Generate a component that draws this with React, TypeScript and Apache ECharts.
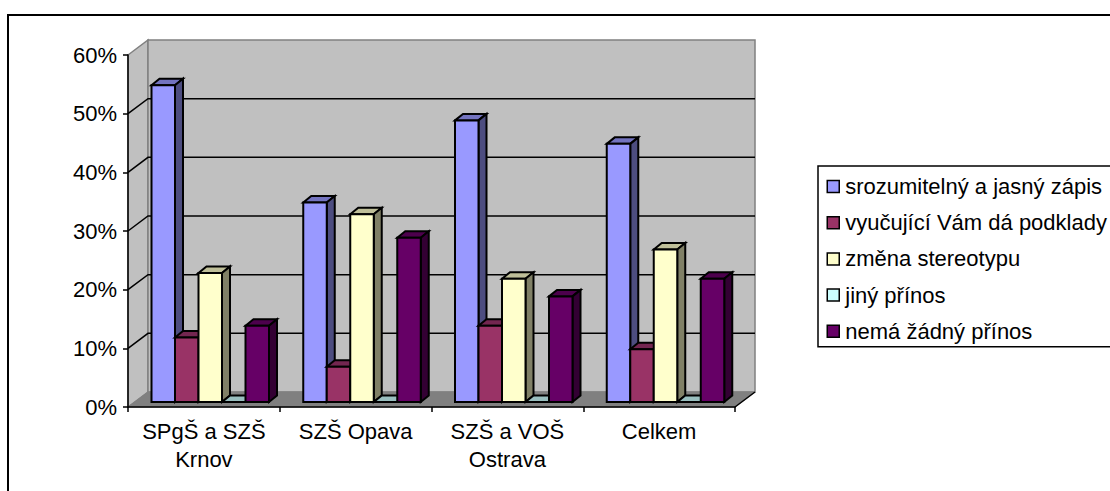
import React, { useEffect, useRef } from "react";
import * as echarts from "echarts";

const categories = ["SPgŠ a SZŠ\nKrnov", "SZŠ Opava", "SZŠ a VOŠ\nOstrava", "Celkem"];
const zapis = [54, 34, 48, 44];
const podklady = [11, 6, 13, 9];
const stereotyp = [22, 32, 21, 26];
const jiny = [0, 0, 0, 0];
const zadny = [13, 28, 18, 21];
const wallTicks = [10, 20, 30, 40, 50];

const seriesDefs = [
  { name: "srozumitelný a jasný zápis", values: zapis, front: "#9999ff", side: "#4d4d80", top: "#7373bf" },
  { name: "vyučující Vám dá podklady", values: podklady, front: "#993366", side: "#4d1a33", top: "#732650" },
  { name: "změna stereotypu", values: stereotyp, front: "#ffffcc", side: "#808066", top: "#bfbf99" },
  { name: "jiný přínos", values: jiny, front: "#ccffff", side: "#668080", top: "#99bfbf" },
  { name: "nemá žádný přínos", values: zadny, front: "#660066", side: "#330033", top: "#4d004d" },
];

const FONT = "'Liberation Sans', Arial, sans-serif";
const WALL_DX = 20;
const WALL_DY = 15;
const BAR_START = 23.5;
const BAR_W = 23.5;
const BAR_DX = 8;
const BAR_DY = 6.5;
const BAR_LIFT = 5;

function wallsRender(_p: any, api: any) {
  const band = api.size([1, 0])[0];
  const [c0, y0] = api.coord([0, 0]);
  const xL = c0 - band / 2;
  const xR = xL + band * categories.length;
  const yT = api.coord([0, 60])[1];
  const gray = "#808080";
  const children: any[] = [
    { type: "polygon", shape: { points: [[xL, yT], [xL + WALL_DX, yT - WALL_DY], [xL + WALL_DX, y0 - WALL_DY], [xL, y0]] }, style: { fill: "#c0c0c0", stroke: gray, lineWidth: 1.5 } },
    { type: "polygon", shape: { points: [[xL + WALL_DX, yT - WALL_DY], [xR + WALL_DX, yT - WALL_DY], [xR + WALL_DX, y0 - WALL_DY], [xL + WALL_DX, y0 - WALL_DY]] }, style: { fill: "#c0c0c0", stroke: gray, lineWidth: 1.5 } },
    { type: "polygon", shape: { points: [[xL, y0], [xL + WALL_DX, y0 - WALL_DY], [xR + WALL_DX, y0 - WALL_DY], [xR, y0]] }, style: { fill: gray, stroke: gray, lineWidth: 1 } },
  ];
  wallTicks.forEach((t) => {
    const y = api.coord([0, t])[1];
    children.push({ type: "polyline", shape: { points: [[xL, y], [xL + WALL_DX, y - WALL_DY], [xR + WALL_DX, y - WALL_DY]] }, style: { fill: "none", stroke: "#000", lineWidth: 1.5 } });
  });
  children.push({ type: "line", shape: { x1: xR, y1: y0, x2: xR + WALL_DX, y2: y0 - WALL_DY }, style: { stroke: "#000", lineWidth: 1.5 } });
  return { type: "group", children };
}

function barRender(idx: number) {
  const def = seriesDefs[idx];
  return (_p: any, api: any) => {
    const band = api.size([1, 0])[0];
    const [cx, yV] = api.coord([api.value(0), api.value(1)]);
    const y0 = api.coord([0, 0])[1] - BAR_LIFT;
    const yTop = yV - BAR_LIFT;
    const x = cx - band / 2 + BAR_START + idx * BAR_W;
    const r = x + BAR_W;
    const ln = { stroke: "#000", lineWidth: 2, lineJoin: "miter" };
    return {
      type: "group",
      children: [
        { type: "polygon", shape: { points: [[x, yTop], [x + BAR_DX, yTop - BAR_DY], [r + BAR_DX, yTop - BAR_DY], [r, yTop]] }, style: { fill: def.top, ...ln } },
        { type: "polygon", shape: { points: [[r, yTop], [r + BAR_DX, yTop - BAR_DY], [r + BAR_DX, y0 - BAR_DY], [r, y0]] }, style: { fill: def.side, ...ln } },
        { type: "rect", shape: { x, y: yTop, width: BAR_W, height: y0 - yTop }, style: { fill: def.front, ...ln } },
      ],
    };
  };
}

export default function App() {
  const ref = useRef<HTMLDivElement>(null);
  useEffect(() => {
    const chart = echarts.init(ref.current!, null, { renderer: "svg" });
    chart.setOption({
      animation: false,
      backgroundColor: "#ffffff",
      textStyle: { fontFamily: FONT },
      grid: { left: 128, top: 55, width: 607, height: 352, containLabel: false },
      xAxis: {
        type: "category",
        data: categories,
        axisLine: { show: true, lineStyle: { color: "#000", width: 1.5 } },
        axisTick: { show: true, length: 5, lineStyle: { color: "#000", width: 1.5 } },
        axisLabel: { interval: 0, color: "#000", fontSize: 22, fontFamily: FONT, margin: 10, lineHeight: 28 },
        splitLine: { show: false },
        z: 5,
      },
      yAxis: {
        type: "value",
        min: 0,
        max: 60,
        interval: 10,
        axisLine: { show: true, lineStyle: { color: "#000", width: 1.5 } },
        axisTick: { show: true, length: 5, lineStyle: { color: "#000", width: 1.5 } },
        axisLabel: { color: "#000", fontSize: 22, fontFamily: FONT, margin: 11, formatter: "{value}%" },
        splitLine: { show: false },
        z: 5,
      },
      legend: {
        orient: "vertical",
        left: 818,
        top: 166,
        padding: [8, 40, 3, 8.5],
        data: seriesDefs.map((d) => d.name),
        icon: "rect",
        itemWidth: 12,
        itemHeight: 12,
        itemGap: 11.2,
        borderColor: "#000",
        borderWidth: 1.5,
        selectedMode: false,
        itemStyle: { borderColor: "#000", borderWidth: 1.5 },
        textStyle: { color: "#000", fontSize: 22, fontFamily: FONT, padding: [0, 0, 0, 1], lineHeight: 25 },
      },
      graphic: [
        { type: "rect", silent: true, z: 100, shape: { x: 8, y: 15, width: 1300, height: 700 }, style: { fill: "none", stroke: "#000", lineWidth: 2 } },
      ],
      series: [
        { type: "custom", name: "walls", silent: true, clip: false, z: 1, renderItem: wallsRender, data: [[0, 0]], encode: { x: 0, y: 1 } },
        ...seriesDefs.map((d, i) => ({
          type: "custom",
          name: d.name,
          silent: true,
          clip: false,
          z: 2 + i,
          itemStyle: { color: d.front },
          renderItem: barRender(i),
          data: d.values.map((v, c) => [c, v]),
          encode: { x: 0, y: 1 },
        })),
      ],
    });
    return () => chart.dispose();
  }, []);
  return <div ref={ref} style={{ position: "fixed", left: 0, top: 0, width: 1110, height: 491 }} />;
}
